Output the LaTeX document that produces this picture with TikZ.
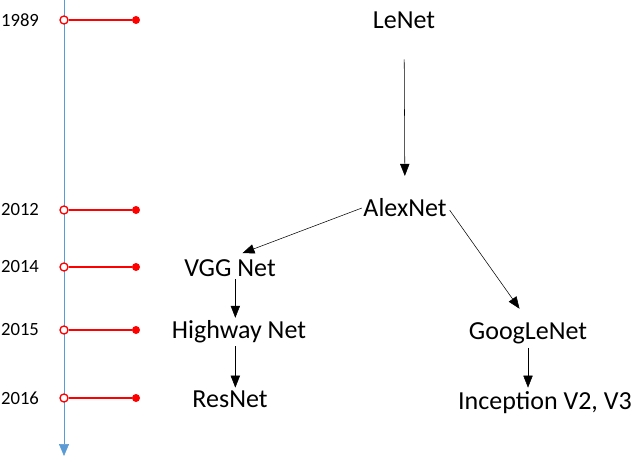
\documentclass[tikz,border=0pt]{standalone}
\usepackage{fontspec}
\setmainfont{Carlito}
\usepackage{xcolor}
\usetikzlibrary{arrows.meta,positioning,calc}
\definecolor{axisblue}{RGB}{91,155,213}

\begin{document}
\begin{tikzpicture}[
    x=0.75pt, y=-0.75pt,
    net/.style={inner sep=1pt, font=\fontsize{19.5}{22}\selectfont},
    yr/.style={inner sep=1pt, font=\fontsize{14}{16}\selectfont},
    arr/.style={-{Triangle[length=9pt, width=7pt]}, thin},
    tick/.style={draw=red, line width=1pt},
    opendot/.style={circle, draw=red, line width=1pt, fill=white, inner sep=0pt, minimum size=6pt},
    fulldot/.style={circle, fill=red, inner sep=0pt, minimum size=6pt},
]
    \useasboundingbox (0,0) rectangle (634,456);

    % timeline
    \coordinate (top) at (64, 0);
    \coordinate (bottom) at (64, 456);
    \draw[axisblue, -{Triangle[length=9pt, width=7.5pt]}] (top) -- (bottom);

    % years
    \foreach \y/\name in {20/1989, 210/2012, 267/2014, 330/2015, 398/2016} {
        \node[yr] (y\name) at (20, \y) {\name};
        \node[fulldot] (e\name) at (136, \y) {};
        \node[opendot] (s\name) at (64, \y) {};
        \draw[tick] (s\name) -- (e\name);
    }

    % networks
    \node[net] (lenet) at (404, 20) {LeNet};
    \node[net] (alexnet) at (405, 208) {AlexNet};
    \node[net] (vgg) at (230, 268) {VGG Net};
    \node[net] (highway) at (239, 332) {Highway Net};
    \node[net] (resnet) at (230, 399) {ResNet};
    \node[net] (googlenet) at (528, 333) {GoogLeNet};
    \node[net] (inception) at (545, 403) {Inception V2, V3};

    \draw[arr, shorten <=22pt, shorten >=16pt] (lenet) -- (alexnet);
    \draw[arr, shorten >=10pt] (alexnet.west) -- (vgg.north);
    \draw[arr, shorten <=2pt, shorten >=11pt] (alexnet.east) -- (googlenet.north);
    \draw[arr, shorten <=1pt, shorten >=1pt] ([xshift=4]vgg.south) -- ([xshift=4]vgg.south |- highway.north);
    \draw[arr, shorten <=1pt, shorten >=1pt] ([xshift=4]resnet.north |- highway.south) -- ([xshift=4]resnet.north);
    \draw[arr, shorten <=2pt, shorten >=2pt] (googlenet.south) -- (googlenet.south |- inception.north);
\end{tikzpicture}
\end{document}
